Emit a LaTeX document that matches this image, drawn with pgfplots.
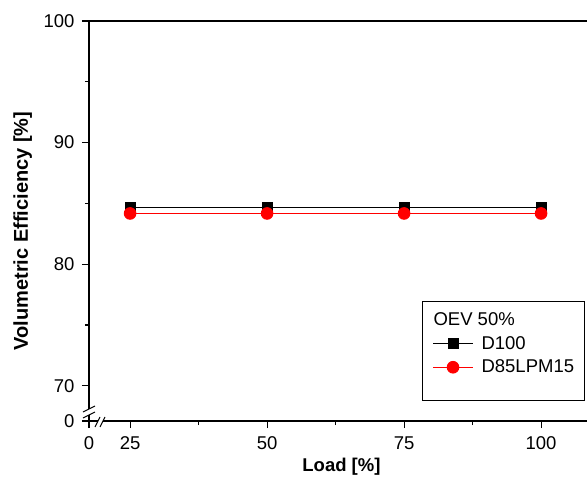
\documentclass[border=0pt]{standalone}
\usepackage{fontspec}
\setmainfont{Liberation Sans}
\usepackage{pgfplots}
\pgfplotsset{compat=1.18}
\begin{document}
\begin{tikzpicture}
\path[use as bounding box] (-89bp,-68bp) rectangle (498bp,421bp);
\begin{axis}[
  scale only axis, width=510bp, height=400bp,
  at={(0,0)}, anchor=south west,
  xmin=17.5, xmax=110.57, ymin=67.1, ymax=100,
  axis line style={line width=1.3bp},
  xtick={17.5,25,50,75,100}, xticklabels={0,25,50,75,100},
  ytick={67.1,70,80,90,100}, yticklabels={0,70,80,90,100},
  minor xtick={37.5,62.5,87.5}, minor ytick={75,85,95},
  tick align=outside, tick pos=left,
  major tick length=7bp, minor tick length=4bp,
  every tick/.style={line width=1.1bp, black},
  /pgf/number format/assume math mode=true,
  ticklabel style={font=\fontsize{18.5bp}{22bp}\selectfont},
  yticklabel style={xshift=-4bp},
  xticklabel style={yshift=-5bp},
  xlabel={\textbf{Load [\%]}}, ylabel={\textbf{Volumetric Efficiency [\%]}},
  xlabel style={font=\fontsize{18.5bp}{22bp}\selectfont, at={(axis description cs:0.495,-0.115)}, anchor=center},
  ylabel style={font=\fontsize{20bp}{24bp}\selectfont, at={(axis description cs:-0.13,0.475)}, anchor=center},
  legend style={at={(rel axis cs:0.653,0.3)}, anchor=north west,
    draw=black, line width=1bp, inner xsep=10bp, inner ysep=7bp,
    font=\fontsize{18.5bp}{22bp}\selectfont,
    row sep=0pt,
    nodes={inner sep=0pt, minimum height=23.5bp},
    /tikz/every odd column/.append style={column sep=8bp}},
  legend cell align=left,
  legend image code/.code={\draw[line width=1bp, mark repeat=2, mark phase=2] plot coordinates {(0bp,0bp) (20bp,0bp) (40bp,0bp)};},
  clip=false,
]
\addlegendimage{empty legend}
\addlegendentry{\hspace{-48bp}OEV 50\%}
\addplot[black, line width=1bp, mark=square*, mark size=5bp, mark options={solid, fill=black}]
  coordinates {(25,84.67) (50,84.67) (75,84.67) (100,84.67)};
\addlegendentry{D100}
\addplot[red, line width=1bp, mark=*, mark size=5.8bp, mark options={solid, fill=red}]
  coordinates {(25,84.17) (50,84.17) (75,84.17) (100,84.17)};
\addlegendentry{D85LPM15}
\addlegendimage{empty legend}
\addlegendentry[minimum height=15bp]{}
\end{axis}
% axis breaks
\fill[white] (-2bp,6bp) rectangle (2bp,12bp);
\fill[white] (9bp,-2bp) rectangle (14bp,2bp);
\draw[line width=1.1bp] (-6bp,3bp) -- (6bp,9bp);
\draw[line width=1.1bp] (-6bp,9bp) -- (6bp,15bp);
\draw[line width=1.1bp] (6bp,-6bp) -- (11bp,4bp);
\draw[line width=1.1bp] (11bp,-6bp) -- (16bp,4bp);
\end{tikzpicture}
\end{document}
